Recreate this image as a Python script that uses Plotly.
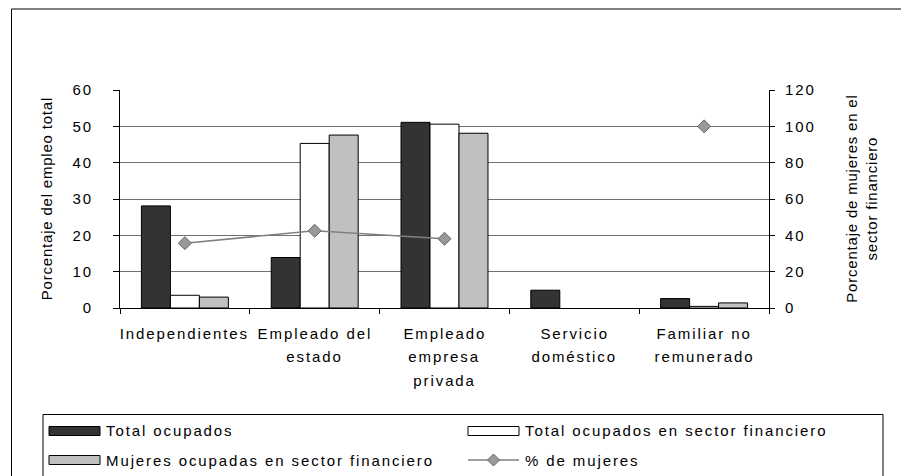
import plotly.graph_objects as go

categorias = ["Independientes", "Empleado del\nestado", "Empleado\nempresa\nprivada",
              "Servicio\ndoméstico", "Familiar no\nremunerado"]
total_ocupados = [28.1, 13.9, 51.1, 4.9, 2.6]
total_financiero = [3.5, 45.3, 50.6, None, 0.45]
mujeres_financiero = [3.0, 47.6, 48.1, None, 1.4]
pct_mujeres = [35.7, 42.5, 38.1, None, 100.0]

# the page has an 8px body margin, so work in page pixels and shift
OFF = 8
W, H = 909 - OFF, 476 - OFF
L, R, T, B = 120 - OFF, 769 - OFF, 90 - OFF, 308 - OFF  # plot area


def px(x):
    return (x - OFF - L) / (R - L)


def py(y):
    return (B - (y - OFF)) / (B - T)


FONT = "Liberation Sans, Arial, sans-serif"
ids = list(range(len(categorias)))

fig = go.Figure()
fig.add_trace(go.Bar(x=ids, y=total_ocupados, name="Total ocupados",
                     marker=dict(color="#333333", line=dict(color="black", width=1))))
fig.add_trace(go.Bar(x=ids, y=total_financiero, name="Total ocupados en sector financiero",
                     marker=dict(color="white", line=dict(color="black", width=1))))
fig.add_trace(go.Bar(x=ids, y=mujeres_financiero, name="Mujeres ocupadas en sector financiero",
                     marker=dict(color="#c0c0c0", line=dict(color="black", width=1))))
fig.add_trace(go.Scatter(x=ids, y=pct_mujeres, name="% de mujeres", yaxis="y2",
                         mode="lines+markers", connectgaps=False,
                         line=dict(color="#808080", width=1.5),
                         marker=dict(symbol="diamond", size=10, color="#999999",
                                     line=dict(color="#666666", width=1))))

fig.update_layout(
    width=W, height=H,
    margin=dict(l=L, r=W - R, t=T, b=H - B),
    paper_bgcolor="white", plot_bgcolor="white",
    font=dict(family=FONT, size=15, color="black"),
    showlegend=False,
    barmode="group", bargap=0.33, bargroupgap=0,
    xaxis=dict(range=[-0.5, 4.5], showticklabels=False,
               tickvals=[i - 0.5 for i in range(len(categorias) + 1)],
               ticks="outside", ticklen=5, tickcolor="black",
               showline=True, linecolor="black", linewidth=1, showgrid=False, zeroline=False),
    yaxis=dict(range=[0, 60], dtick=10, ticks="outside", ticklen=6, tickcolor="black",
               showline=True, linecolor="black", linewidth=1,
               showgrid=True, gridcolor="#707070", gridwidth=1, zeroline=False,
               ticklabelstandoff=17, tickfont=dict(size=15)),
    yaxis2=dict(range=[0, 120], dtick=20, overlaying="y", side="right",
                ticks="outside", ticklen=5, tickcolor="black",
                showline=True, linecolor="black", linewidth=1,
                showgrid=False, zeroline=False, ticklabelstandoff=7,
                tickfont=dict(size=15)),
)

annotations = []
# category labels, one line at a time
for i, lab in enumerate(categorias):
    for j, line in enumerate(lab.split("\n")):
        annotations.append(dict(x=i, xref="x", y=py(333 + j * 23.5), yref="paper",
                                text=line, showarrow=False, xanchor="center",
                                yanchor="middle", font=dict(size=15)))

# axis titles
annotations.append(dict(x=px(45.5), y=py(199), xref="paper", yref="paper",
                        text="Porcentaje del empleo total", textangle=-90,
                        xanchor="center", yanchor="middle",
                        showarrow=False, font=dict(size=15)))
annotations.append(dict(x=px(861), y=py(199), xref="paper", yref="paper",
                        text="Porcentaje de mujeres en el<br>sector financiero", textangle=-90,
                        xanchor="center", yanchor="middle",
                        showarrow=False, font=dict(size=15)))

shapes = []
# outer chart border and legend box
shapes.append(dict(type="rect", xref="paper", yref="paper",
                   x0=px(11.5), x1=px(930), y0=py(9), y1=py(490),
                   line=dict(color="black", width=1), fillcolor="rgba(0,0,0,0)"))
shapes.append(dict(type="rect", xref="paper", yref="paper",
                   x0=px(43), x1=px(883), y0=py(414.5), y1=py(490),
                   line=dict(color="black", width=1), fillcolor="rgba(0,0,0,0)"))

# legend entries
leg = [
    ("Total ocupados", "#333333", 49, 431),
    ("Total ocupados en sector financiero", "white", 468, 431),
    ("Mujeres ocupadas en sector financiero", "#c0c0c0", 49, 460),
]
for name, col, x0, yc in leg:
    shapes.append(dict(type="rect", xref="paper", yref="paper",
                       x0=px(x0), x1=px(x0 + 51), y0=py(yc - 4.5), y1=py(yc + 4.5),
                       line=dict(color="black", width=1), fillcolor=col))
    annotations.append(dict(x=px(x0 + 55), y=py(yc), xref="paper", yref="paper",
                            text=name, showarrow=False, xanchor="left", align="left",
                            yanchor="middle", font=dict(size=15)))
shapes.append(dict(type="line", xref="paper", yref="paper",
                   x0=px(468), x1=px(519), y0=py(460), y1=py(460),
                   line=dict(color="#808080", width=1.5)))
shapes.append(dict(type="path", xref="paper", yref="paper",
                   path=f"M {px(487.5)} {py(460)} L {px(493.5)} {py(454)} "
                        f"L {px(499.5)} {py(460)} L {px(493.5)} {py(466)} Z",
                   line=dict(color="#666666", width=1), fillcolor="#999999"))
annotations.append(dict(x=px(523), y=py(460), xref="paper", yref="paper",
                        text="% de mujeres", showarrow=False, xanchor="left", align="left",
                        yanchor="middle", font=dict(size=15)))

fig.update_layout(annotations=annotations, shapes=shapes)

# the source chart has widely spaced lettering (less so on the axis titles)
spacing = ("document.querySelectorAll('.main-svg text').forEach(function(t){"
           "var s = t.textContent.indexOf('Porcentaje') === 0 ? '0.8px' : '1.9px';"
           "t.setAttribute('letter-spacing', s);});")
fig.write_html("out.html", post_script=spacing)
